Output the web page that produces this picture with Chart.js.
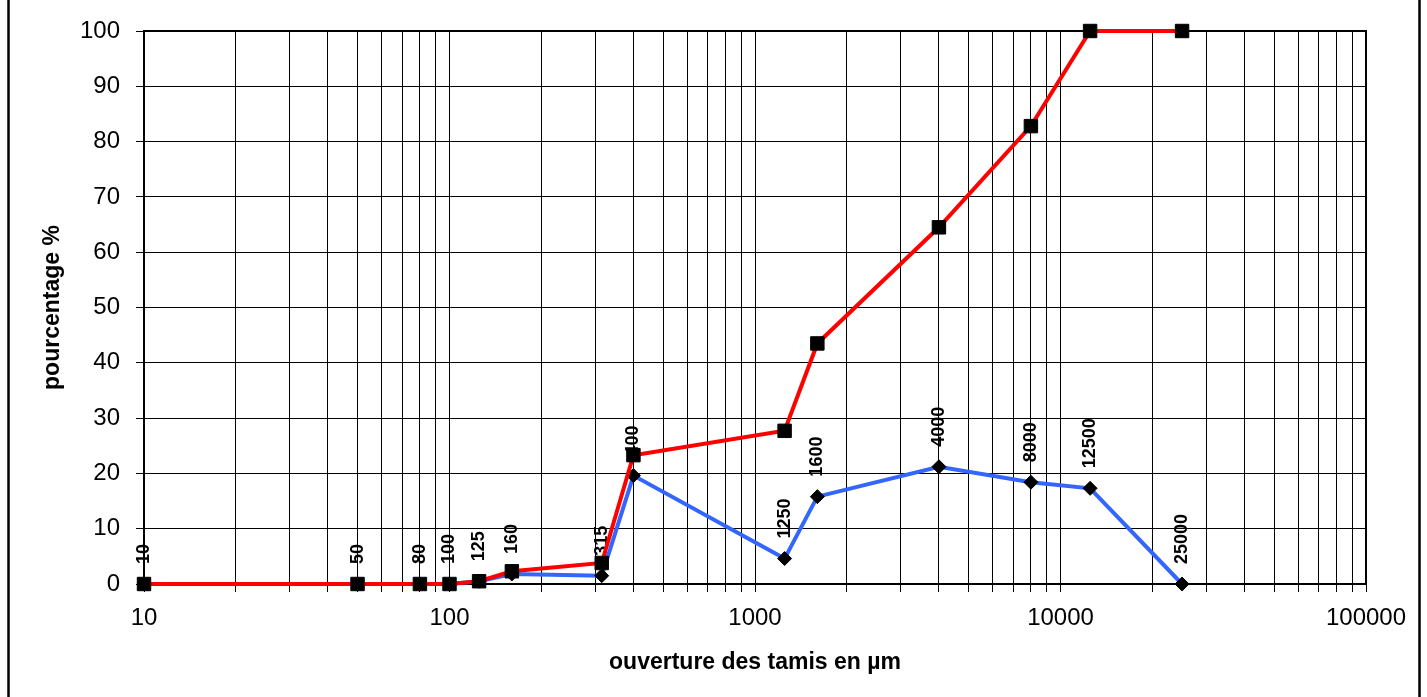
<!DOCTYPE html>
<html>
<head>
<meta charset="utf-8">
<script src="https://cdn.jsdelivr.net/npm/chart.js@4.4.0/dist/chart.umd.min.js"></script>
<style>
  body { margin: 0; background: #fff; }
</style>
</head>
<body>
<canvas id="tamis" width="1427" height="697"></canvas>
<script>
const sieves = [10, 50, 80, 100, 125, 160, 315, 400, 1250, 1600, 4000, 8000, 12500, 25000];
const cumulative = [0, 0, 0, 0, 0.5, 2.3, 3.8, 23.3, 27.7, 43.5, 64.5, 82.8, 100, 100];
const retained = [0, 0, 0, 0, 0.5, 1.8, 1.5, 19.6, 4.6, 15.8, 21.2, 18.4, 17.3, 0];
const yTicks = [0, 10, 20, 30, 40, 50, 60, 70, 80, 90, 100];
const decades = [10, 100, 1000, 10000, 100000];

const fontFamily = "'Liberation Sans', Arial, sans-serif";

// all log ticks 10,20..90,100,200.. ; only the powers of ten get a label
const xTickValues = [];
for (let d = 0; d < decades.length - 1; d++) {
  for (let m = 1; m < 10; m++) xTickValues.push(decades[d] * m);
}
xTickValues.push(decades[decades.length - 1]);

// sieve size written vertically above each retained point
const sieveLabels = {
  id: 'sieveLabels',
  afterDatasetDraw(chart, args) {
    if (args.index !== 1) return;
    const ctx = chart.ctx;
    const xs = chart.scales.x;
    const ys = chart.scales.y;
    ctx.save();
    ctx.font = `bold 18px ${fontFamily}`;
    ctx.fillStyle = '#000';
    ctx.textAlign = 'left';
    ctx.textBaseline = 'middle';
    sieves.forEach((s, i) => {
      ctx.save();
      ctx.translate(xs.getPixelForValue(s), ys.getPixelForValue(retained[i]) - 20);
      ctx.rotate(-Math.PI / 2);
      ctx.fillText(String(s), 0, 0);
      ctx.restore();
    });
    ctx.restore();
  }
};

const frames = {
  id: 'frames',
  beforeDatasetsDraw(chart) {
    const { ctx, chartArea } = chart;
    ctx.save();
    ctx.strokeStyle = '#000';
    ctx.lineWidth = 2;
    ctx.strokeRect(chartArea.left, chartArea.top, chartArea.right - chartArea.left, chartArea.bottom - chartArea.top);
    ctx.restore();
  },
  afterDraw(chart) {
    const ctx = chart.ctx;
    ctx.save();
    ctx.strokeStyle = '#000';
    ctx.lineWidth = 2.5;
    ctx.beginPath();
    ctx.moveTo(8.5, 0);
    ctx.lineTo(8.5, chart.height);
    ctx.moveTo(1419.5, 0);
    ctx.lineTo(1419.5, chart.height);
    ctx.stroke();
    ctx.restore();
  }
};

const chart = new Chart(document.getElementById('tamis'), {
  type: 'line',
  data: {
    datasets: [
      {
        label: 'cumulé',
        data: sieves.map((s, i) => ({ x: s, y: cumulative[i] })),
        borderColor: '#ff0000',
        borderWidth: 4,
        pointStyle: 'rect',
        pointRadius: 9.5,
        pointBackgroundColor: '#000',
        pointBorderColor: '#000',
        pointBorderWidth: 1,
        tension: 0,
        clip: false,
      },
      {
        label: 'retenu',
        data: sieves.map((s, i) => ({ x: s, y: retained[i] })),
        borderColor: '#3366ff',
        borderWidth: 4,
        pointStyle: 'rectRot',
        pointRadius: 7,
        pointBackgroundColor: '#000',
        pointBorderColor: '#000',
        pointBorderWidth: 1,
        tension: 0,
        clip: false,
      },
    ],
  },
  options: {
    responsive: false,
    animation: false,
    layout: { padding: { left: 0, top: 31, right: 61, bottom: 0 } },
    plugins: {
      legend: { display: false },
      tooltip: { enabled: false },
    },
    scales: {
      x: {
        type: 'logarithmic',
        min: 10,
        max: 100000,
        afterBuildTicks(scale) {
          scale.ticks = xTickValues.map((v) => ({ value: v }));
        },
        afterFit(scale) {
          scale.height = 113;
        },
        ticks: {
          autoSkip: false,
          maxRotation: 0,
          padding: 12,
          color: '#000',
          font: { family: fontFamily, size: 24 },
          callback: (v) => (decades.includes(v) ? String(v) : ''),
        },
        grid: { color: '#000', lineWidth: 1, tickLength: 8, tickColor: '#000' },
        border: { color: '#000', width: 2 },
        title: {
          display: true,
          text: 'ouverture des tamis en µm',
          color: '#000',
          font: { family: fontFamily, size: 23, weight: 'bold' },
          padding: { top: 0, bottom: 21 },
        },
      },
      y: {
        min: 0,
        max: 100,
        afterBuildTicks(scale) {
          scale.ticks = yTicks.map((v) => ({ value: v }));
        },
        afterFit(scale) {
          scale.width = 144;
        },
        ticks: {
          padding: 16,
          color: '#000',
          font: { family: fontFamily, size: 24 },
        },
        grid: { color: '#000', lineWidth: 1, tickLength: 8, tickColor: '#000' },
        border: { color: '#000', width: 2 },
        title: {
          display: true,
          text: 'pourcentage %',
          color: '#000',
          font: { family: fontFamily, size: 23, weight: 'bold' },
          padding: { top: 39, bottom: 0 },
        },
      },
    },
  },
  plugins: [sieveLabels, frames],
});
</script>
</body>
</html>
